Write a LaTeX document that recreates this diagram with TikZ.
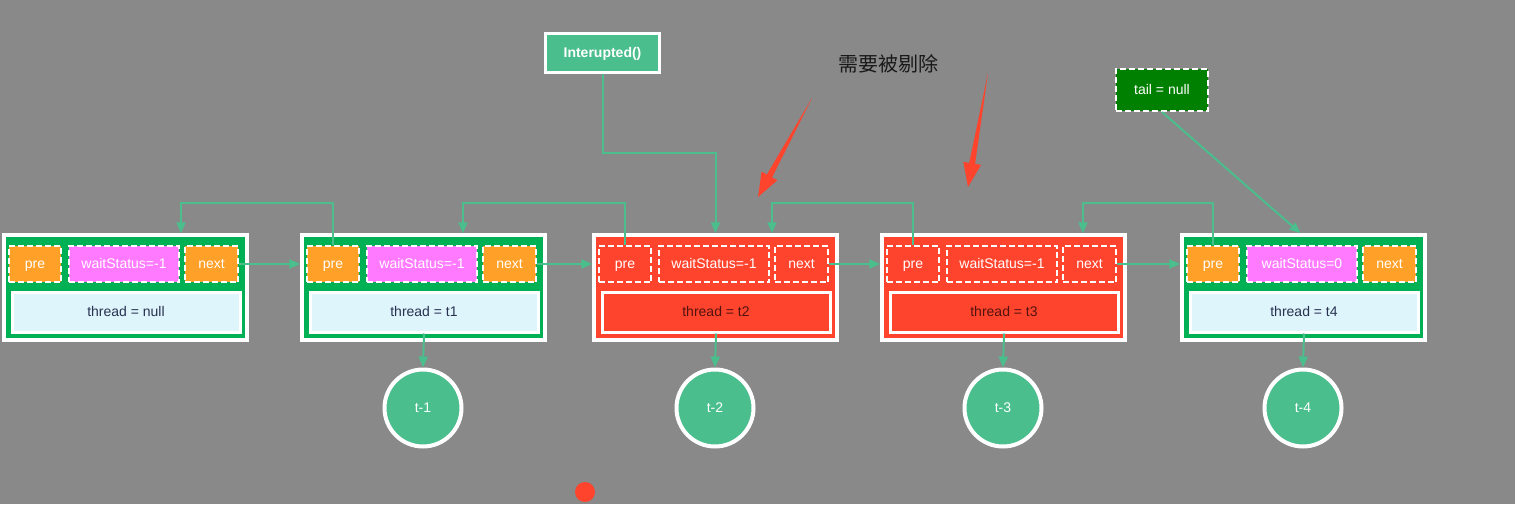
\documentclass[tikz,border=0pt]{standalone}
\usepackage{fontspec}
\setmainfont{Liberation Sans}
\newfontfamily\cjk{Noto Sans CJK SC}
\usetikzlibrary{arrows.meta,calc}

\definecolor{bggray}{RGB}{137,137,137}
\definecolor{boxgreen}{RGB}{0,176,84}
\definecolor{cutred}{RGB}{255,68,45}
\definecolor{fieldorange}{RGB}{255,160,40}
\definecolor{fieldpink}{RGB}{255,122,255}
\definecolor{threadblue}{RGB}{222,245,252}
\definecolor{linkgreen}{RGB}{74,190,140}
\definecolor{tailgreen}{RGB}{0,128,0}
\definecolor{inktext}{RGB}{40,50,80}
\definecolor{redink}{RGB}{80,20,15}

% hand drawn red pointer: tail, tip
\newcommand\killarrow[2]{%
  \coordinate (kb) at ($(#2)!24pt!(#1)$);
  \fill[cutred] (#1) -- ($(kb)!3pt!90:(#2)$) -- ($(kb)!9pt!90:(#2)$) -- (#2)
    -- ($(kb)!9pt!-90:(#2)$) -- ($(kb)!3pt!-90:(#2)$) -- cycle;}

\begin{document}
\begin{tikzpicture}[x=1pt, y=-1pt,
  every node/.style={font=\fontsize{14}{14}\selectfont, inner sep=0pt, text height=10pt, text depth=2pt},
  link/.style={draw=linkgreen, line width=2pt, -{Triangle[length=11pt,width=9pt]}},
  listbox/.style={draw=white, line width=3.5pt, minimum width=243pt, minimum height=105pt},
  field/.style={draw=white, line width=1.6pt, dash pattern=on 6pt off 3pt, minimum height=36pt, text=white},
  threadbox/.style={draw=white, line width=3pt, minimum width=228pt, minimum height=40pt},
  ok box/.style={fill=boxgreen},
  ok end/.style={fill=fieldorange},
  ok mid/.style={fill=fieldpink},
  ok thread/.style={fill=threadblue, text=inktext},
  cut box/.style={fill=cutred},
  cut end/.style={fill=cutred},
  cut mid/.style={fill=cutred},
  cut thread/.style={fill=cutred, text=redink},
  thrcircle/.style={circle, draw=white, line width=4pt, fill=linkgreen, minimum size=77pt, text=white}]

  \useasboundingbox (0,0) rectangle (1515,504);
  \fill[bggray] (0,0) rectangle (1515,504);

  % queue nodes
  \foreach \i/\L/\kind/\ws/\thr in {0/2/ok/-1/null, 1/300/ok/-1/t1, 2/592/cut/-1/t2, 3/880/cut/-1/t3, 4/1180/ok/0/t4}{
    \node[listbox, \kind\space box] (n\i) at (\L+123.5,287.5) {};
    \node[field, \kind\space end, minimum width=52.5pt] (pre\i) at (\L+33,264) {pre};
    \node[field, \kind\space mid, minimum width=110.5pt] (ws\i) at (\L+122,264) {waitStatus=\ws};
    \node[field, \kind\space end, minimum width=53.5pt] (next\i) at (\L+209.5,264) {next};
    \node[threadbox, \kind\space thread] (thr\i) at (\L+124,312) {thread = \thr};
  }

  % threads
  \foreach \i/\L in {1/300, 2/592, 3/880, 4/1180}{
    \node[thrcircle] (c\i) at (\L+123,408) {t-\i};
    \draw[link] (thr\i.south) -- (c\i.north);
  }

  % next pointers
  \foreach \i/\j in {0/1, 1/2, 2/3, 3/4}
    \draw[link] (next\i.east) -- (next\i.east -| n\j.west);

  % pre pointers
  \foreach \i/\j/\off in {0/1/55.5, 1/2/39.5, 2/3/56.5, 3/4/79.5}
    \draw[link] (pre\j.north) -- ++(0,-42) -| ([xshift=\off]n\i.north);

  % interrupt
  \node[draw=white, line width=3pt, fill=linkgreen, minimum width=114pt, minimum height=39pt,
    text=white, font=\bfseries\fontsize{14}{14}\selectfont] (intr) at (602.5,53) {Interupted()};
  \draw[link] (intr.south) -- ++(0,79) -| (n2.north);

  % tail
  \node[draw=white, line width=2pt, dash pattern=on 6pt off 3pt, fill=tailgreen,
    minimum width=92pt, minimum height=42pt, text=white] (tail) at (1162,90) {tail = null};
  \draw[link] (tail.south) -- ([xshift=-3pt]n4.north);

  % note
  \node[text=black!90, font=\cjk\fontsize{20}{20}\selectfont, text height=16pt, text depth=3pt] (note) at (888,65) {需要被剔除};
  \coordinate (aa) at (812,98);
  \coordinate (ab) at (758,197);
  \coordinate (ba) at (988,73);
  \coordinate (bb) at (968,187);
  \killarrow{aa}{ab}
  \killarrow{ba}{bb}

  \fill[cutred] (585,492) circle (10pt);
\end{tikzpicture}
\end{document}
